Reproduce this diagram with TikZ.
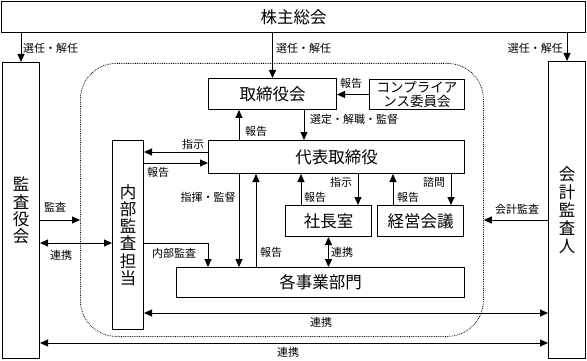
\documentclass[tikz,border=0pt]{standalone}
\usepackage{fontspec}
\setmainfont{Noto Sans CJK JP}
\usetikzlibrary{arrows.meta}
\begin{document}
\begin{tikzpicture}[x=1pt,y=-1pt,
 box/.style={draw, line width=1pt, inner sep=0pt, anchor=north west, font=\fontsize{16.5}{17}\selectfont},
 vbox/.style={box, align=center, font=\fontsize{16.5}{17.3}\selectfont},
 arr/.style={line width=0.9pt, -{Triangle[length=8pt,width=7pt]}},
 darr/.style={line width=0.9pt, {Triangle[length=8pt,width=7pt]}-{Triangle[length=8pt,width=7pt]}},
 lab/.style={font=\fontsize{11}{12}\selectfont, inner sep=0pt},
]
\useasboundingbox (0,0) rectangle (587,361);
% frame
\node[draw, densely dotted, line width=0.8pt, rounded corners=36pt, inner sep=0pt, anchor=north west,
      minimum width=403pt, minimum height=273pt] (frame) at (80,63) {};
% boxes
\node[box, minimum width=584pt, minimum height=31pt] (ss) at (1,1) {株主総会};
\node[vbox, minimum width=37pt, minimum height=296pt] (kansa) at (2,62) {監\\査\\役\\会};
\node[vbox, minimum width=37pt, minimum height=297pt, font=\fontsize{16.5}{18}\selectfont] (kaikei) at (548,61) {会\\計\\監\\査\\人};
\node[box, minimum width=128pt, minimum height=31pt] (tori) at (208,78) {取締役会};
\node[box, minimum width=95pt, minimum height=30pt, align=center, font=\fontsize{13.5}{14}\selectfont] (comp) at (369,79) {コンプライア\\ンス委員会};
\node[box, minimum width=256pt, minimum height=33pt] (daihyo) at (208,140) {代表取締役};
\node[vbox, minimum width=31pt, minimum height=189pt] (naibu) at (112,140) {内\\部\\監\\査\\担\\当};
\node[box, minimum width=86pt, minimum height=31pt] (shacho) at (285,205) {社長室};
\node[box, minimum width=86pt, minimum height=31pt] (keiei) at (377,205) {経営会議};
\node[box, minimum width=288pt, minimum height=30pt] (jigyo) at (176,267) {各事業部門};
% helper coordinates
\coordinate (c208) at (208,0);
\coordinate (c239) at (239,0);
\coordinate (c256) at (256,0);
\coordinate (c301) at (301,0);
\coordinate (c304) at (304,0);
\coordinate (c358) at (358,0);
\coordinate (c393) at (393,0);
\coordinate (c451) at (451,0);
\coordinate (r152) at (0,152);
\coordinate (r163) at (0,163);
\coordinate (r220) at (0,220);
\coordinate (r243) at (0,243);
\coordinate (r313) at (0,313);
\coordinate (r343) at (0,343);
% top arrows
\draw[arr] (ss.south -| kansa.north) -- (kansa.north);
\node[lab, anchor=west] (l1) at (23,48) {選任・解任};
\draw[arr] (ss.south -| tori.north) -- (tori.north);
\node[lab, anchor=west] (l2) at (276,48) {選任・解任};
\draw[arr] (ss.south -| kaikei.north) -- (kaikei.north);
\node[lab, anchor=east] (l3) at (563,48) {選任・解任};
% compliance
\draw[arr] (comp.west) -- (comp.west -| tori.east);
\node[lab] (l4) at (351,83) {報告};
% tori <-> daihyo
\draw[arr] (tori.south -| c304) -- (daihyo.north -| c304);
\node[lab, anchor=west] (l5) at (310,119) {選定・解職・監督};
\draw[arr] (daihyo.north -| c239) -- (tori.south -| c239);
\node[lab, anchor=west] (l6) at (245,131) {報告};
% daihyo <-> naibu
\draw[arr] (daihyo.west |- r152) -- (naibu.east |- r152);
\node[lab] (l7) at (193,144) {指示};
\draw[arr] (naibu.east |- r163) -- (daihyo.west |- r163);
\node[lab] (l8) at (158,172) {報告};
% kansa
\draw[arr] (kansa.east |- r220) -- (frame.west |- r220);
\node[lab] (l9) at (55,207) {監査};
\draw[darr] (kansa.east |- r243) -- (naibu.west |- r243);
\node[lab] (l10) at (61,255) {連携};
% naibu -> jigyo
\draw[arr] (naibu.east |- r243) -| (jigyo.north -| c208);
\node[lab] (l11) at (174,253) {内部監査};
% daihyo <-> jigyo
\draw[arr] (daihyo.south -| c239) -- (jigyo.north -| c239);
\node[lab] (l12) at (208,197) {指揮・監督};
\draw[arr] (jigyo.north -| c256) -- (daihyo.south -| c256);
\node[lab] (l13) at (271,252) {報告};
% shacho / keiei
\draw[arr] (shacho.north -| c301) -- (daihyo.south -| c301);
\node[lab] (l14) at (315,197) {報告};
\draw[arr] (daihyo.south -| c358) -- (shacho.north -| c358);
\node[lab] (l15) at (341,182) {指示};
\draw[arr] (keiei.north -| c393) -- (daihyo.south -| c393);
\node[lab] (l16) at (408,197) {報告};
\draw[arr] (daihyo.south -| c451) -- (keiei.north -| c451);
\node[lab] (l17) at (434,182) {諮問};
\draw[darr] (shacho.south) -- (shacho.south |- jigyo.north);
\node[lab] (l18) at (342,252) {連携};
% kaikei
\draw[arr] (kaikei.west |- r220) -- (frame.east |- r220);
\node[lab] (l19) at (517,209) {会計監査};
% bottom links
\draw[darr] (naibu.east |- r313) -- (kaikei.west |- r313);
\node[lab] (l20) at (321,322) {連携};
\draw[darr] (kansa.east |- r343) -- (kaikei.west |- r343);
\node[lab] (l21) at (288,352) {連携};
\end{tikzpicture}
\end{document}
